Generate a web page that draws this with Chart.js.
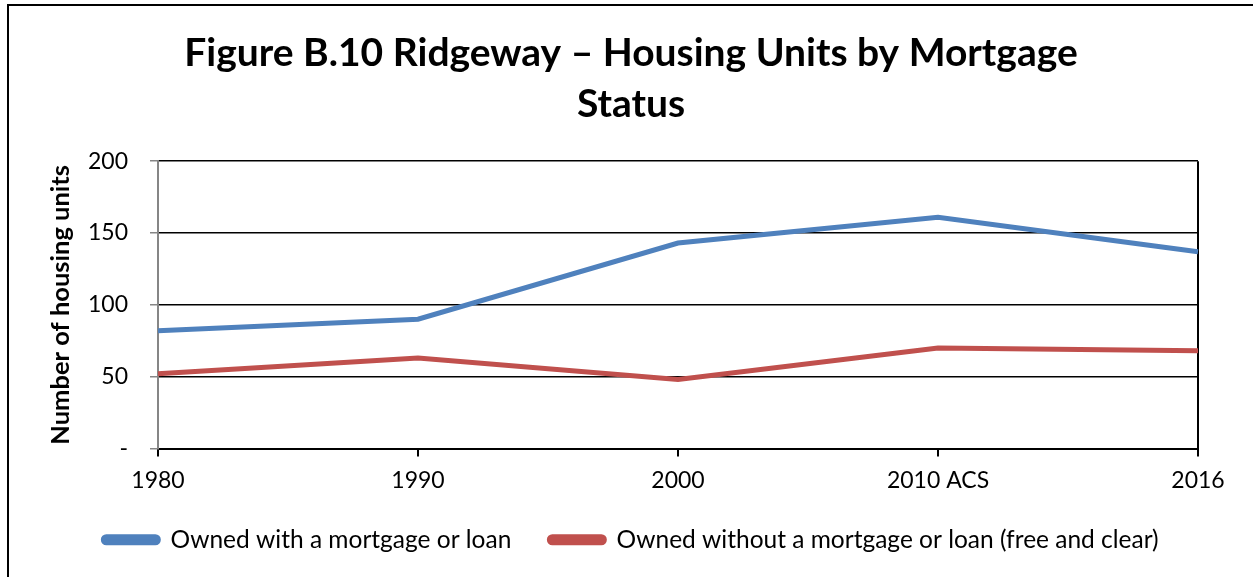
<!DOCTYPE html>
<html>
<head>
<meta charset="utf-8">
<script src="https://cdn.jsdelivr.net/npm/chart.js@4/dist/chart.umd.min.js"></script>
<style>
  html, body { margin: 0; padding: 0; background: #fff; }
  #wrap { position: relative; width: 1253px; height: 577px; overflow: hidden; }
  #frame { position: absolute; left: 7px; top: 4px; right: -10px; bottom: -10px;
           border-left: 2px solid #000; border-top: 2px solid #000; pointer-events: none; }
  canvas { position: absolute; left: 0; top: 0; }
</style>
</head>
<body>
<div id="wrap">
  <canvas id="chart" width="1253" height="577"></canvas>
  <div id="frame"></div>
</div>
<script>
// Housing units by mortgage status, Ridgeway
const years = ['1980', '1990', '2000', '2010 ACS', '2016'];
const withMortgage = [82, 90, 143, 161, 137];
const withoutMortgage = [52, 63, 48, 70, 68];
const yTicks = [0, 50, 100, 150, 200];

const FONT = 'Lato, "Open Sans", sans-serif';
const BLUE = '#4F81BD';
const RED = '#C0504D';

new Chart(document.getElementById('chart'), {
  type: 'line',
  data: {
    labels: years,
    datasets: [
      {
        label: 'Owned with a mortgage or loan',
        data: withMortgage,
        borderColor: BLUE,
        backgroundColor: BLUE,
        borderWidth: 5,
        pointRadius: 0,
        tension: 0,
      },
      {
        label: 'Owned without a mortgage or loan (free and clear)',
        data: withoutMortgage,
        borderColor: RED,
        backgroundColor: RED,
        borderWidth: 5,
        pointRadius: 0,
        tension: 0,
      }
    ]
  },
  options: {
    responsive: false,
    animation: false,
    // left padding keeps the title/legend centred like the original
    layout: { padding: { left: 64, right: 55, top: 28, bottom: 15 } },
    plugins: {
      title: {
        display: true,
        text: ['Figure B.10 Ridgeway \u2013 Housing Units by Mortgage', 'Status'],
        color: '#000',
        font: { family: FONT, size: 39, weight: 'bold', lineHeight: 1.31 },
        padding: { top: 0, bottom: 31 },
      },
      legend: {
        position: 'bottom',
        labels: {
          color: '#000',
          font: { family: FONT, size: 24.5 },
          boxWidth: 55,
          boxHeight: 6,
          useBorderRadius: true,
          borderRadius: 3,
          padding: 38,
        }
      },
      tooltip: { enabled: false }
    },
    scales: {
      x: {
        offset: false,
        afterFit: axis => { axis.height = 41; },
        grid: {
          drawOnChartArea: true,
          color: ctx => ctx.index === years.length - 1 ? '#000' : 'rgba(0,0,0,0)',
          tickColor: '#000',
          tickLength: 8,
          lineWidth: 2,
        },
        border: { display: true, color: '#000', width: 2 },
        ticks: {
          color: '#000',
          font: { family: FONT, size: 23 },
          padding: 10,
          maxRotation: 0,
        }
      },
      y: {
        min: 0,
        max: 200,
        afterBuildTicks: axis => { axis.ticks = yTicks.map(v => ({ value: v })); },
        afterFit: axis => { axis.width = 94; },
        grid: {
          color: '#000',
          tickColor: '#868686',
          tickLength: 8,
          lineWidth: 1.5,
        },
        border: { display: true, color: '#868686', width: 2 },
        ticks: {
          color: '#000',
          font: { family: FONT, size: 23 },
          padding: 22,
          callback: v => v === 0 ? '-' : v,
        },
        title: {
          display: true,
          text: 'Number of housing units',
          color: '#000',
          font: { family: FONT, size: 25.5, weight: 'bold' },
          padding: { top: -19, bottom: 0 },
        }
      }
    }
  }
});
</script>
</body>
</html>
